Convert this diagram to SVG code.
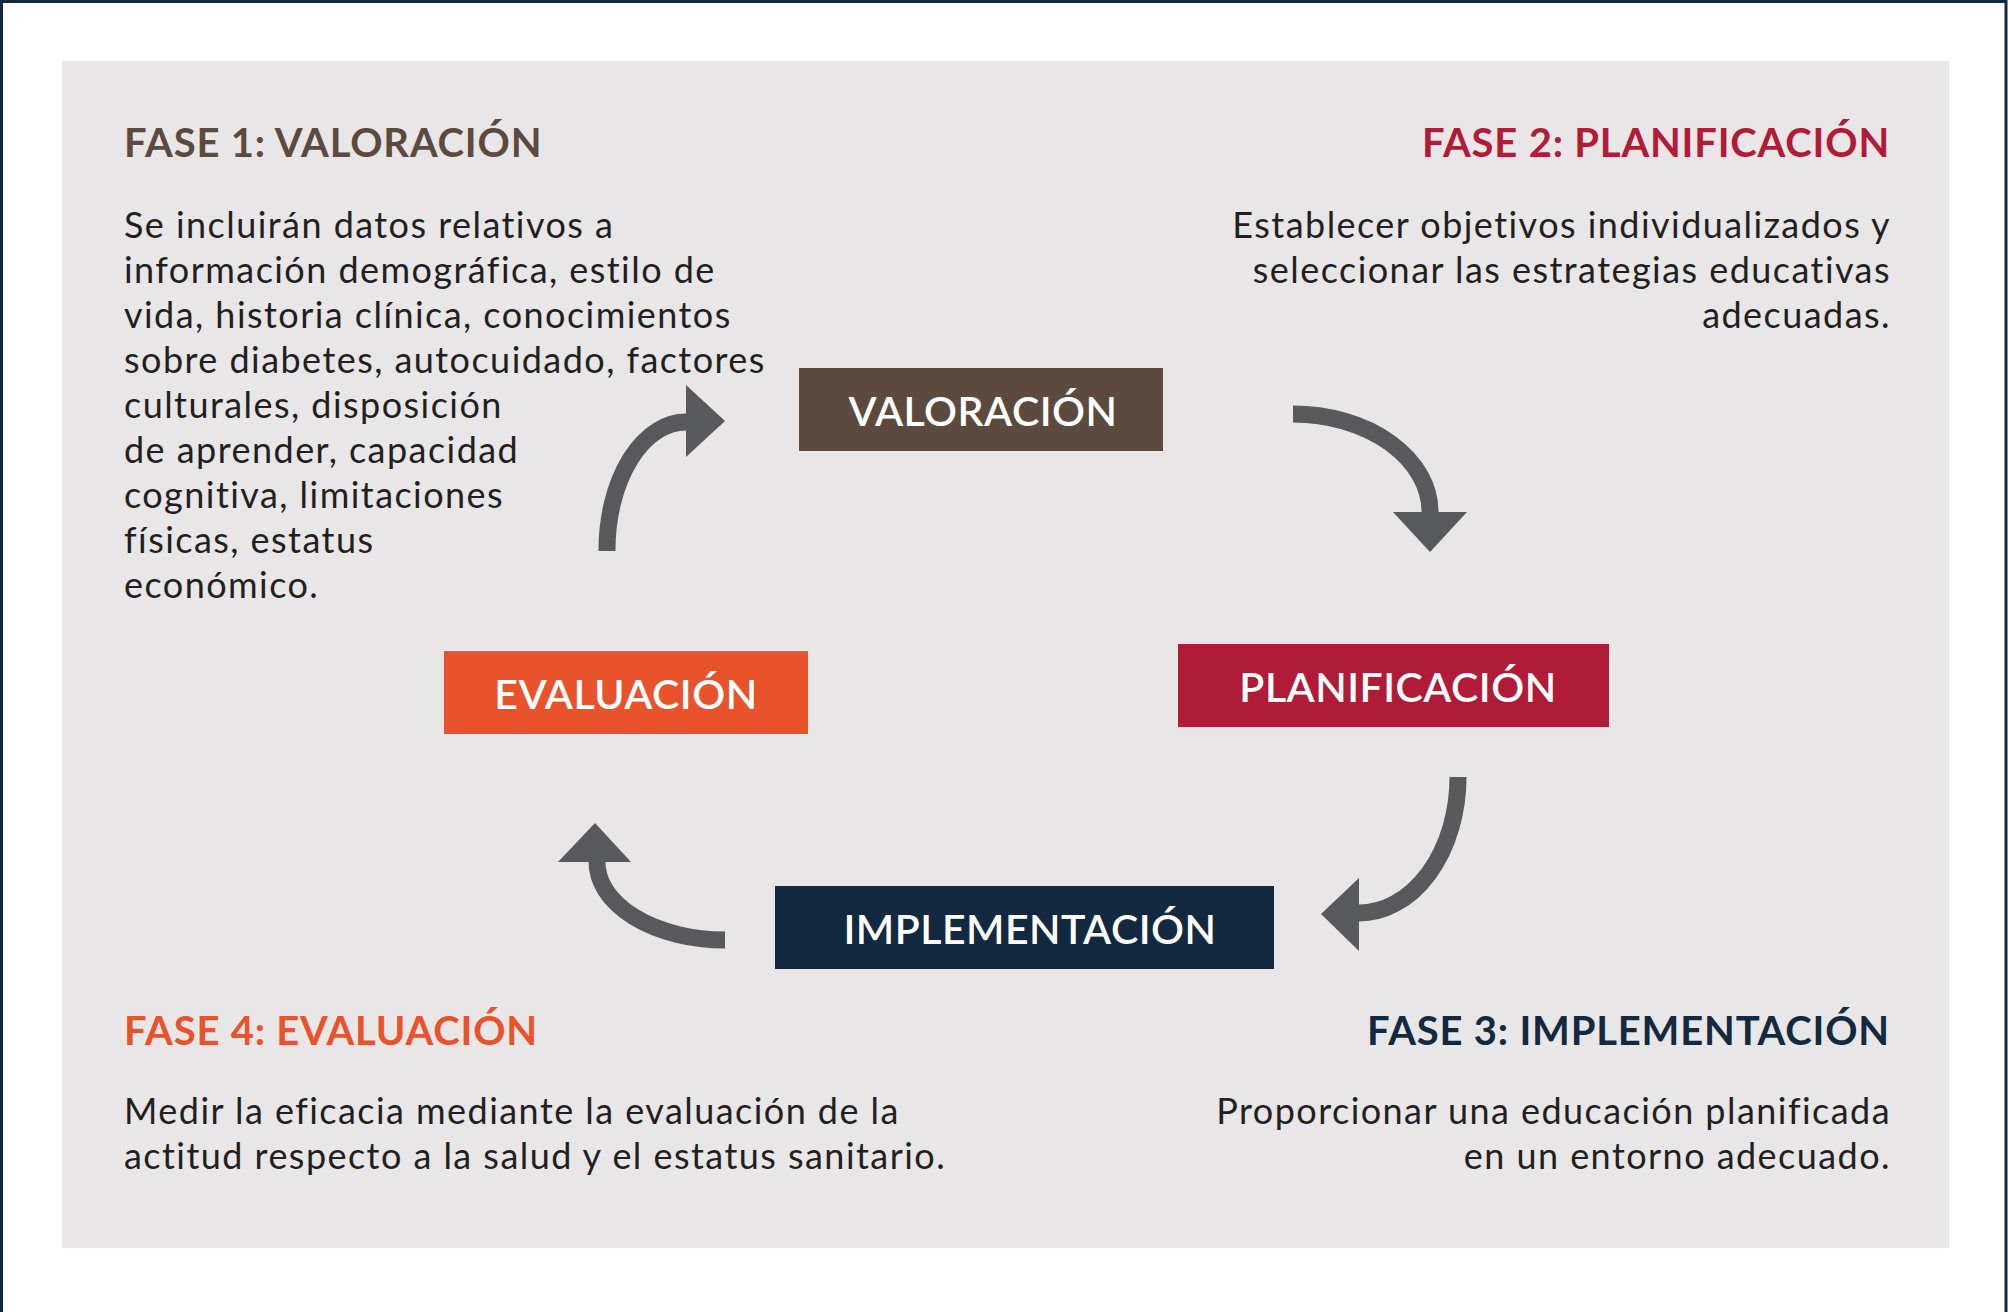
<svg xmlns="http://www.w3.org/2000/svg" width="2008" height="1312" viewBox="0 0 2008 1312">
  <style>
    .h { font-family: Lato, "Liberation Sans", sans-serif; font-weight: 700; font-size: 40px; letter-spacing: 0.8px; }
    .b { font-family: Lato, "Liberation Sans", sans-serif; font-weight: 400; font-size: 36px; fill: #231f20; letter-spacing: 1.45px; font-variant-ligatures: none; }
    .bt { font-family: Lato, "Liberation Sans", sans-serif; font-weight: 600; font-size: 41px; fill: #ffffff; text-anchor: middle; letter-spacing: 0.5px; }
    .r { text-anchor: end; }
    .arr { fill: none; stroke: #58595b; stroke-width: 17; }
    .head { fill: #58595b; }
  </style>
  <rect x="0" y="0" width="2008" height="1312" fill="#ffffff"/>
  <path d="M1.5 1312 V1.5 H2006 V1312" fill="none" stroke="#13293f" stroke-width="3"/>
  <rect x="62" y="61" width="1887" height="1187" fill="#e8e6e7"/>

  <g id="fase1">
    <text class="h" x="124" y="157" fill="#5c4a3e">FASE 1: VALORACIÓN</text>
    <text class="b" x="124" y="238">Se incluirán datos relativos a</text>
    <text class="b" x="124" y="283">información demográfica, estilo de</text>
    <text class="b" x="124" y="328">vida, historia clínica, conocimientos</text>
    <text class="b" x="124" y="373">sobre diabetes, autocuidado, factores</text>
    <text class="b" x="124" y="418">culturales, disposición</text>
    <text class="b" x="124" y="463">de aprender, capacidad</text>
    <text class="b" x="124" y="508">cognitiva, limitaciones</text>
    <text class="b" x="124" y="553">físicas, estatus</text>
    <text class="b" x="124" y="598">económico.</text>
  </g>

  <g id="fase2">
    <text class="h r" x="1890" y="157" fill="#b01b37">FASE 2: PLANIFICACIÓN</text>
    <text class="b r" x="1891" y="238">Establecer objetivos individualizados y</text>
    <text class="b r" x="1891" y="283">seleccionar las estrategias educativas</text>
    <text class="b r" x="1891" y="328">adecuadas.</text>
  </g>

  <g id="fase3">
    <text class="h r" x="1890" y="1045" fill="#13293f">FASE 3: IMPLEMENTACIÓN</text>
    <text class="b r" x="1891" y="1124">Proporcionar una educación planificada</text>
    <text class="b r" x="1891" y="1169">en un entorno adecuado.</text>
  </g>

  <g id="fase4">
    <text class="h" x="124" y="1045" fill="#e9532b">FASE 4: EVALUACIÓN</text>
    <text class="b" x="124" y="1124">Medir la eficacia mediante la evaluación de la</text>
    <text class="b" x="124" y="1169">actitud respecto a la salud y el estatus sanitario.</text>
  </g>

  <g id="valoracion">
    <rect x="799" y="368" width="364" height="83" fill="#5c4a3e"/>
    <text class="bt" x="983" y="426">VALORACIÓN</text>
  </g>
  <g id="planificacion">
    <rect x="1178" y="644" width="431" height="83" fill="#b01b37"/>
    <text class="bt" x="1398" y="702">PLANIFICACIÓN</text>
  </g>
  <g id="implementacion">
    <rect x="775" y="886" width="499" height="83" fill="#13293f"/>
    <text class="bt" x="1030" y="944">IMPLEMENTACIÓN</text>
  </g>
  <g id="evaluacion">
    <rect x="444" y="651" width="364" height="83" fill="#e9532b"/>
    <text class="bt" x="626" y="709">EVALUACIÓN</text>
  </g>

  <g id="connectors">
    <path class="arr" d="M1293 414 A137 98 0 0 1 1430 513"/>
    <polygon class="head" points="1393,512 1467,512 1430,552"/>
    <path class="arr" d="M1458 777 A99 136 0 0 1 1358 913"/>
    <polygon class="head" points="1359,878 1359,951 1321,914"/>
    <path class="arr" d="M725 940 A128 78 0 0 1 597 861"/>
    <polygon class="head" points="558,862 631,862 595,823"/>
    <path class="arr" d="M607 551 A79 128 0 0 1 687 422"/>
    <polygon class="head" points="686,385 686,457 725,421"/>
  </g>
</svg>
